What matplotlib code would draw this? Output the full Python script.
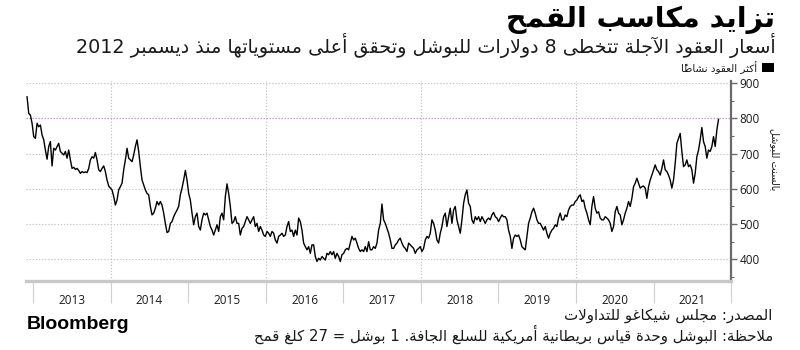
import re
import pandas as pd
import matplotlib
matplotlib.use("Agg")
import matplotlib.pyplot as plt
from matplotlib.patches import Rectangle

# ---------------------------------------------------------------- text
TITLE = "تزايد مكاسب القمح"
SUBTITLE = "أسعار العقود الآجلة تتخطى 8 دولارات للبوشل وتحقق أعلى مستوياتها منذ ديسمبر 2012"
LEGEND_LABEL = "أكثر العقود نشاطاً"
Y_LABEL = "بالسنت للبوشل"
SOURCE = "المصدر: مجلس شيكاغو للتداولات"
NOTE = "ملاحظة: البوشل وحدة قياس بريطانية أمريكية للسلع الجافة. 1 بوشل = 27 كلغ قمح"
BRAND = "Bloomberg"

# ---------------------------------------------------------------- data
years = [2013, 2014, 2015, 2016, 2017, 2018, 2019, 2020, 2021]
year_labels = [str(y) for y in years]
y_ticks = [400, 500, 600, 700, 800, 900]
dec_2012_level = 800          # cents per bushel

first_date = "2012-12-03"
last_date = "2021-11-03"

# wheat futures, most-active contract, cents per bushel (roughly weekly)
price_2012_2014 = [
    861, 814, 809, 786, 748, 743, 786, 776, 781, 753, 739, 710, 684, 720, 734,
    665, 715, 710, 720, 729, 706, 701, 696, 706, 687, 710, 682, 658, 661, 655,
    658, 652, 644, 649, 646, 648, 646, 658, 682, 691, 687, 703, 682, 654, 649,
    658, 665, 649, 625, 608, 602, 597, 578, 554, 568, 597, 606, 616, 654, 682,
    715, 687, 682, 677, 696, 720, 739, 706, 663, 625, 611, 597, 587, 583, 550,
    526, 531, 545, 564, 554, 564, 554, 531, 502, 476, 479, 502, 507, 521, 531,
    540, 550, 583, 602, 625, 652, 625, 587, 568, 531, 498, 521, 531, 493, 483,
]
price_2015_2017 = [
    512, 531, 526, 531, 512, 493, 483, 469, 483, 498, 479, 521, 531, 512, 578,
    614, 587, 550, 502, 507, 521, 502, 502, 469, 488, 493, 507, 521, 512, 502,
    512, 521, 493, 502, 479, 493, 483, 469, 465, 479, 474, 465, 479, 474, 455,
    446, 465, 469, 474, 465, 469, 493, 507, 479, 483, 465, 483, 469, 517, 507,
    483, 446, 436, 427, 436, 417, 441, 441, 408, 394, 403, 398, 408, 403, 398,
    417, 413, 422, 413, 422, 403, 417, 408, 394, 413, 417, 427, 431, 427, 446,
    465, 455, 460, 446, 431, 422, 427, 422, 436, 422, 450, 427, 427, 436, 431,
    446, 483, 502, 557, 512, 502, 488, 474, 455, 431, 431, 441, 446, 455, 460,
]
price_2018_2019 = [
    446, 436, 431, 422, 446, 441, 436, 431, 417, 427, 431, 436, 422, 431, 455,
    465, 460, 474, 512, 502, 483, 455, 446, 474, 493, 521, 531, 493, 521, 545,
    502, 540, 550, 512, 493, 474, 512, 559, 583, 597, 559, 550, 512, 502, 521,
    512, 521, 507, 521, 512, 502, 512, 517, 512, 526, 533, 521, 517, 507, 517,
    526, 521, 521, 512, 483, 465, 431, 460, 469, 465, 469, 455, 436, 431, 427,
    465, 502, 517, 535, 545, 531, 512, 502, 502, 493, 483, 493, 474, 460, 474,
]
price_2020_2021 = [
    483, 488, 498, 493, 517, 531, 512, 512, 526, 521, 540, 550, 554, 554, 564,
    568, 578, 583, 564, 568, 545, 531, 512, 498, 550, 578, 545, 531, 535, 517,
    512, 512, 521, 517, 512, 502, 479, 493, 535, 550, 531, 526, 498, 512, 531,
    545, 564, 550, 573, 606, 616, 630, 616, 602, 606, 608, 602, 573, 606, 625,
    639, 654, 668, 654, 649, 639, 658, 682, 654, 649, 639, 625, 602, 625, 672,
    729, 743, 757, 706, 663, 668, 682, 663, 668, 654, 616, 644, 691, 710, 739,
    774, 734, 720, 687, 710, 706, 720, 748, 720, 767, 797,
]

prices = price_2012_2014 + price_2015_2017 + price_2018_2019 + price_2020_2021
dates = pd.date_range(first_date, last_date, periods=len(prices))

# ---------------------------------------------------------------- arabic shaping
_AR_FORMS = {
    "\u0621": ("\uFE80", None, None, None),
    "\u0622": ("\uFE81", "\uFE82", None, None),
    "\u0623": ("\uFE83", "\uFE84", None, None),
    "\u0624": ("\uFE85", "\uFE86", None, None),
    "\u0625": ("\uFE87", "\uFE88", None, None),
    "\u0626": ("\uFE89", "\uFE8A", "\uFE8B", "\uFE8C"),
    "\u0627": ("\uFE8D", "\uFE8E", None, None),
    "\u0628": ("\uFE8F", "\uFE90", "\uFE91", "\uFE92"),
    "\u0629": ("\uFE93", "\uFE94", None, None),
    "\u062A": ("\uFE95", "\uFE96", "\uFE97", "\uFE98"),
    "\u062B": ("\uFE99", "\uFE9A", "\uFE9B", "\uFE9C"),
    "\u062C": ("\uFE9D", "\uFE9E", "\uFE9F", "\uFEA0"),
    "\u062D": ("\uFEA1", "\uFEA2", "\uFEA3", "\uFEA4"),
    "\u062E": ("\uFEA5", "\uFEA6", "\uFEA7", "\uFEA8"),
    "\u062F": ("\uFEA9", "\uFEAA", None, None),
    "\u0630": ("\uFEAB", "\uFEAC", None, None),
    "\u0631": ("\uFEAD", "\uFEAE", None, None),
    "\u0632": ("\uFEAF", "\uFEB0", None, None),
    "\u0633": ("\uFEB1", "\uFEB2", "\uFEB3", "\uFEB4"),
    "\u0634": ("\uFEB5", "\uFEB6", "\uFEB7", "\uFEB8"),
    "\u0635": ("\uFEB9", "\uFEBA", "\uFEBB", "\uFEBC"),
    "\u0636": ("\uFEBD", "\uFEBE", "\uFEBF", "\uFEC0"),
    "\u0637": ("\uFEC1", "\uFEC2", "\uFEC3", "\uFEC4"),
    "\u0638": ("\uFEC5", "\uFEC6", "\uFEC7", "\uFEC8"),
    "\u0639": ("\uFEC9", "\uFECA", "\uFECB", "\uFECC"),
    "\u063A": ("\uFECD", "\uFECE", "\uFECF", "\uFED0"),
    "\u0641": ("\uFED1", "\uFED2", "\uFED3", "\uFED4"),
    "\u0642": ("\uFED5", "\uFED6", "\uFED7", "\uFED8"),
    "\u0643": ("\uFED9", "\uFEDA", "\uFEDB", "\uFEDC"),
    "\u0644": ("\uFEDD", "\uFEDE", "\uFEDF", "\uFEE0"),
    "\u0645": ("\uFEE1", "\uFEE2", "\uFEE3", "\uFEE4"),
    "\u0646": ("\uFEE5", "\uFEE6", "\uFEE7", "\uFEE8"),
    "\u0647": ("\uFEE9", "\uFEEA", "\uFEEB", "\uFEEC"),
    "\u0648": ("\uFEED", "\uFEEE", None, None),
    "\u0649": ("\uFEEF", "\uFEF0", None, None),
    "\u064A": ("\uFEF1", "\uFEF2", "\uFEF3", "\uFEF4"),
}
_LAM_ALEF = {
    "\u0622": ("\uFEF5", "\uFEF6"),
    "\u0623": ("\uFEF7", "\uFEF8"),
    "\u0625": ("\uFEF9", "\uFEFA"),
    "\u0627": ("\uFEFB", "\uFEFC"),
}
_MARKS = {chr(c) for c in range(0x064B, 0x0653)}


def _joins_next(c):
    return c in _AR_FORMS and _AR_FORMS[c][2] is not None


def _joins_prev(c):
    return c in _AR_FORMS and _AR_FORMS[c][1] is not None


def ar(text):
    """Contextual letter forms plus right-to-left visual order."""
    chars = list(text)
    n = len(chars)
    clusters = []
    i = 0
    while i < n:
        c = chars[i]
        if c in _MARKS:
            if clusters:
                clusters[-1] += c
            i += 1
            continue
        if c not in _AR_FORMS:
            clusters.append(c)
            i += 1
            continue
        j = i - 1
        while j >= 0 and chars[j] in _MARKS:
            j -= 1
        prev = chars[j] if j >= 0 else None
        k = i + 1
        while k < n and chars[k] in _MARKS:
            k += 1
        nxt = chars[k] if k < n else None
        conn_prev = prev is not None and _joins_next(prev) and _joins_prev(c)
        if c == "\u0644" and nxt in _LAM_ALEF:
            clusters.append(_LAM_ALEF[nxt][1 if conn_prev else 0])
            i = k + 1
            continue
        conn_next = _joins_next(c) and nxt is not None and _joins_prev(nxt)
        iso, fin, ini, med = _AR_FORMS[c]
        if conn_prev and conn_next:
            g = med
        elif conn_prev:
            g = fin
        elif conn_next:
            g = ini
        else:
            g = iso
        clusters.append(g)
        i += 1
    runs = []
    for cl in clusters:
        if re.fullmatch(r"[0-9A-Za-z]", cl):
            if runs and runs[-1][0] == "L":
                runs[-1][1].append(cl)
            else:
                runs.append(["L", [cl]])
        else:
            runs.append(["R", [cl]])
    return "".join("".join(r[1]) for r in reversed(runs))


# ---------------------------------------------------------------- figure
AR_FONT = ["DejaVu Sans"]
NUM_FONT = ["Open Sans", "DejaVu Sans"]
TEXT_COLOR = "#1a1a1a"
GRID_COLOR = "#c4c4c4"

fig = plt.figure(figsize=(8, 3.5), dpi=100)
fig.patch.set_facecolor("white")
ax = fig.add_axes([0.0325, 0.1966, 0.8813, 0.5711])

ax.plot(dates, prices, color="black", lw=1.0, zorder=3)

ymin, ymax = 338, 905
ax.set_ylim(ymin, ymax)
ax.set_xlim(pd.Timestamp("2012-11-28"), pd.Timestamp("2022-01-01"))

# horizontal grid and the December 2012 reference level
for v in y_ticks:
    if v == dec_2012_level:
        ax.axhline(v, color="#d68fe0", lw=0.9, ls=(0, (1.2, 1.2)), zorder=2)
    else:
        ax.axhline(v, color=GRID_COLOR, lw=0.8, ls=(0, (1.2, 1.6)), zorder=1)

# vertical grid every other year
for y in [2014, 2016, 2018, 2020]:
    ax.axvline(pd.Timestamp(f"{y}-01-01"), color=GRID_COLOR, lw=0.8,
               ls=(0, (1.2, 1.6)), zorder=1)

# spines
for s in ["left", "top"]:
    ax.spines[s].set_visible(False)
ax.spines["right"].set_color("#6a6a6a")
ax.spines["right"].set_linewidth(1.6)
ax.spines["bottom"].set_color("#c8c8c8")
ax.spines["bottom"].set_linewidth(2.4)

# y axis on the right
ax.yaxis.tick_right()
ax.set_yticks(y_ticks)
ax.set_yticks([350, 450, 550, 650, 750, 850], minor=True)
ax.tick_params(axis="y", which="major", direction="out", length=4, width=1.0,
               color="#6a6a6a", pad=2, labelsize=8.5, labelcolor=TEXT_COLOR)
ax.tick_params(axis="y", which="minor", direction="out", length=2.5, width=0.8,
               color="#6a6a6a")
for lab in ax.get_yticklabels():
    lab.set_family(NUM_FONT)

# x axis: year boundaries as separators, labels centred within each year
bounds = [pd.Timestamp(f"{y}-01-01") for y in years + [years[-1] + 1]]
mids = [pd.Timestamp(f"{y}-07-02") for y in years]
ax.set_xticks(bounds)
ax.set_xticklabels([""] * len(bounds))
ax.set_xticks(mids, minor=True)
ax.set_xticklabels(year_labels, minor=True)
ax.tick_params(axis="x", which="major", direction="out", length=16, width=0.8,
               color="#cfcfcf")
ax.tick_params(axis="x", which="minor", length=0, pad=9, labelsize=8.5,
               labelcolor=TEXT_COLOR)
for lab in ax.get_xticklabels(minor=True):
    lab.set_family(NUM_FONT)

# y label, reading downwards
fig.text(0.969, 0.545, ar(Y_LABEL), rotation=-90, ha="center", va="center",
         fontsize=7, family=AR_FONT, color=TEXT_COLOR)

# legend
fig.patches.append(Rectangle((0.953, 0.794), 0.014, 0.027, transform=fig.transFigure,
                             facecolor="black", edgecolor="none"))
fig.text(0.946, 0.806, ar(LEGEND_LABEL), ha="right", va="center", fontsize=7.5,
         family=AR_FONT, color=TEXT_COLOR)

# titles
fig.text(0.969, 0.942, ar(TITLE), ha="right", va="center", fontsize=20.5,
         fontweight="bold", family=AR_FONT, color="black")
fig.text(0.969, 0.870, ar(SUBTITLE), ha="right", va="center", fontsize=13.8,
         family=AR_FONT, color=TEXT_COLOR)

# footer
fig.text(0.966, 0.098, ar(SOURCE), ha="right", va="center", fontsize=10.8,
         family=AR_FONT, color=TEXT_COLOR)
fig.text(0.966, 0.046, ar(NOTE), ha="right", va="center", fontsize=10.7,
         family=AR_FONT, color=TEXT_COLOR)
fig.text(0.034, 0.072, BRAND, ha="left", va="center", fontsize=14,
         fontweight="bold", family=["Liberation Sans", "DejaVu Sans"], color="black")

fig.savefig("out.png", dpi=100, facecolor="white")
